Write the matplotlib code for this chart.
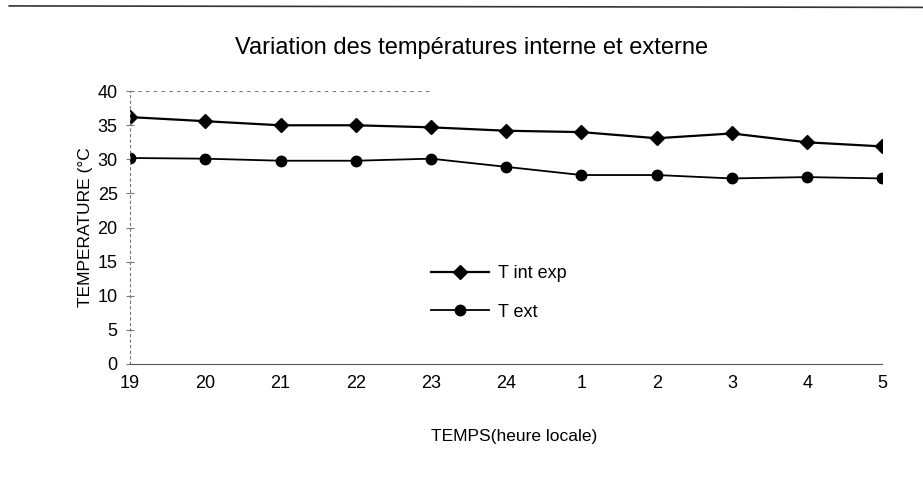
import matplotlib.pyplot as plt
from matplotlib.lines import Line2D

plt.rcParams['font.family'] = ['Liberation Sans', 'DejaVu Sans']

heures = ['19', '20', '21', '22', '23', '24', '1', '2', '3', '4', '5']
t_int_exp = [36.2, 35.6, 35.0, 35.0, 34.7, 34.2, 34.0, 33.1, 33.8, 32.5, 31.9]
t_ext = [30.2, 30.1, 29.8, 29.8, 30.1, 28.9, 27.7, 27.7, 27.2, 27.4, 27.2]

fig = plt.figure(figsize=(9.23, 4.93), dpi=100)
ax = fig.add_axes([0.141, 0.262, 0.815, 0.553])

x = range(len(heures))
ax.plot(x, t_int_exp, color='black', lw=1.6, marker='D', ms=7.5, label='T int exp')
ax.plot(x, t_ext, color='black', lw=1.3, marker='o', ms=7.5, label='T ext')

ax.set_xlim(0, len(heures) - 1)
ax.set_ylim(0, 40)
ax.set_yticks(range(0, 41, 5))
ax.set_xticks(list(x))
ax.set_xticklabels(heures)
ax.tick_params(axis='y', direction='inout', length=6, width=0.8, color='#777777',
               labelsize=13, pad=6)
ax.tick_params(axis='x', length=0, labelsize=13, pad=8)

for s in ['top', 'right']:
    ax.spines[s].set_visible(False)
ax.spines['left'].set_linestyle((0, (2, 3)))
ax.spines['left'].set_color('#777777')
ax.spines['bottom'].set_color('#555555')
ax.axhline(40, xmax=0.4, color='#777777', lw=0.8, ls=(0, (3, 4)))

fig.text(472 / 923, 1 - 48 / 493, 'Variation des températures interne et externe',
         fontsize=17, ha='center', va='center')
ax.set_xlabel('TEMPS(heure locale)', fontsize=12.5, labelpad=27)
ax.xaxis.set_label_coords(0.51, -0.24)
ax.set_ylabel('TEMPERATURE (°C', fontsize=12.5, labelpad=3)

leg = ax.legend(loc='center', bbox_to_anchor=(0.49, 0.26), fontsize=13,
                frameon=False, handlelength=3.2, handletextpad=0.5,
                labelspacing=1.2)

# scanned page border at the top
fig.add_artist(Line2D([0.01, 1.0], [0.988, 0.985], color='#333333', lw=1.2))

fig.savefig('out.png', dpi=100)
